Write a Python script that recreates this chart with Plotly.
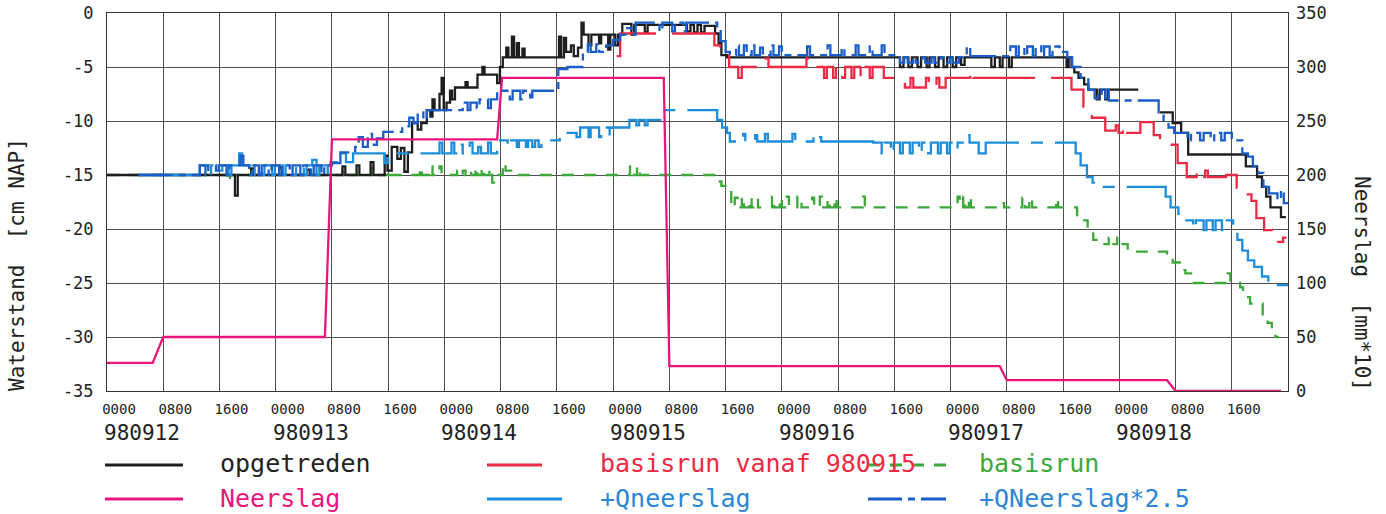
import plotly.graph_objects as go

MONO = "DejaVu Sans Mono, Liberation Mono, monospace"

# Time axis: hours since 980912 0000
day_labels = ["980912", "980913", "980914", "980915", "980916", "980917", "980918"]
time_labels = ["0000", "0800", "1600"]

# Waterstand series [cm NAP], step-wise (hour, value)
opgetreden = [
    (0, -15.0), (18.2, -16.9), (18.6, -15.0), (20.5, -14.4), (20.9, -15.0), (24.5, -14.3), (24.9, -15.0),
    (28.5, -14.5), (28.9, -15.0), (33.5, -14.2), (33.9, -15.0), (35.5, -14.1), (35.9, -15.0), (37.5, -13.8),
    (37.9, -15.0), (39.5, -13.2), (39.9, -14.6), (40.5, -12.4), (41.3, -13.5), (41.8, -12.5), (42.3, -14.7),
    (42.8, -12.9), (43.4, -10.2), (44.2, -10.8), (44.7, -10.2), (45.5, -9.0), (46.0, -9.6), (46.3, -8.0),
    (46.6, -9.0), (47.3, -7.5), (47.6, -6.0), (47.9, -9.0), (48.3, -8.3), (48.8, -7.2), (49.1, -8.0),
    (49.5, -6.9), (51.0, -6.4), (51.3, -6.9), (52.7, -5.7), (53.4, -5.0), (53.7, -5.7), (55.5, -6.5),
    (55.9, -5.0), (56.3, -4.1), (56.8, -3.2), (57.1, -4.1), (57.6, -2.2), (57.9, -4.1), (58.3, -2.8),
    (58.6, -4.1), (59.1, -3.3), (59.4, -4.1), (64.3, -2.2), (64.6, -4.1), (65.0, -2.3), (65.3, -3.6),
    (66.0, -3.0), (66.4, -4.0), (67.0, -3.2), (67.5, -0.9), (67.8, -2.0), (68.5, -3.0), (68.9, -2.0),
    (70.0, -2.8), (70.3, -2.0), (71.3, -3.4), (71.6, -2.0), (72.3, -3.0), (72.7, -2.0), (73.3, -1.0),
    (74.6, -2.0), (75.0, -1.1), (76.5, -1.8), (76.9, -1.1), (82.5, -1.7), (83.0, -1.1), (83.5, -1.8),
    (84.0, -1.1), (84.5, -1.8), (85.0, -1.2), (86.5, -1.9), (87.0, -2.8), (87.4, -3.9), (88.2, -4.1),
    (112.8, -5.0), (113.3, -4.1), (114.0, -5.0), (114.5, -4.1), (115.3, -5.0), (115.8, -4.1), (116.6, -5.0),
    (117.0, -4.1), (117.8, -5.0), (118.3, -4.1), (119.0, -5.0), (119.5, -4.1), (120.3, -5.0), (120.8, -4.1),
    (121.5, -4.8), (122.0, -4.1), (125.8, -5.0), (126.3, -4.1), (127.0, -5.0), (127.4, -4.1), (128.3, -5.0),
    (128.7, -4.1), (136.5, -5.0), (136.8, -4.1), (137.2, -5.0), (137.6, -5.5), (138.2, -6.0), (139.0, -6.6),
    (139.6, -7.1), (140.8, -8.0), (141.2, -7.1), (142.0, -8.0), (142.4, -7.1), (146.7, -7.1), (146.8, None),
    (149.8, -9.2), (151.6, -10.2), (152.8, -11.1), (153.8, -13.1), (162.0, -14.2), (163.6, -15.2),
    (164.3, -16.1), (164.9, -17.0), (165.5, -18.0), (167.0, -18.9), (167.7, -18.9),
]

basisrun_vanaf = [
    (72.5, -4.0), (73.0, -1.9), (86.4, -3.0), (87.2, -3.9), (88.5, -5.0), (89.8, -6.0), (90.3, -5.0),
    (93.7, -4.2), (94.1, -5.0), (99.5, -4.2), (101.0, -5.0), (102.0, -6.0), (102.4, -5.0), (103.3, -6.0),
    (103.7, -5.0), (104.6, -6.0), (105.0, -5.0), (105.9, -6.0), (106.3, -5.0), (107.2, -6.0), (107.6, -5.0),
    (108.5, -6.0), (108.9, -5.0), (110.5, -6.0), (113.5, -6.9), (114.3, -6.0), (114.7, -6.9), (116.5, -6.0),
    (116.9, -6.9), (118.0, -6.0), (118.4, -6.9), (119.3, -6.0), (122.8, -5.3), (123.2, -6.0), (137.2, -7.1),
    (138.9, -8.7), (140.1, -9.7), (142.0, -10.9), (143.5, -10.4), (143.9, -11.1), (144.5, -10.4),
    (144.9, -11.1), (147.0, -10.1), (148.9, -11.3), (149.8, -12.2), (152.3, -13.9), (153.6, -15.2),
    (155.0, -14.6), (155.4, -15.2), (156.2, -14.6), (156.6, -15.2), (159.2, -15.0), (160.7, -16.2),
    (162.1, -16.8), (162.8, -17.4), (163.5, -19.0), (164.6, -20.1), (165.8, -21.2), (167.3, -20.8),
    (167.8, -20.8),
]

basisrun = [
    (0, -15.0), (17.1, -15.6), (17.5, -15.0), (33.5, -14.5), (33.8, -15.0), (37.6, -14.4), (37.9, -15.0),
    (40.0, -14.5), (40.3, -15.0), (44.5, -14.3), (44.8, -15.0), (46.0, -14.2), (46.3, -15.0), (47.3, -14.2),
    (47.6, -15.0), (49.8, -14.6), (50.2, -15.0), (50.6, -14.6), (51.0, -15.0), (51.4, -14.6), (51.8, -15.0),
    (52.4, -14.3), (52.7, -15.0), (53.3, -14.3), (53.6, -15.0), (54.4, -14.4), (54.8, -15.7), (55.3, -15.0),
    (56.3, -13.9), (56.7, -14.6), (57.5, -15.0), (74.4, -14.2), (74.8, -15.0), (75.4, -14.2), (75.8, -15.0),
    (86.7, -15.6), (87.4, -16.0), (88.8, -18.0), (89.3, -17.1), (89.7, -18.0), (90.3, -17.0), (90.6, -18.0),
    (91.4, -17.1), (91.7, -18.0), (92.3, -17.3), (92.6, -18.0), (94.6, -17.0), (94.9, -18.0), (95.7, -17.1),
    (96.0, -18.0), (96.7, -17.0), (97.0, -18.0), (98.2, -17.0), (98.8, -18.0), (100.3, -17.1), (100.6, -18.0),
    (101.4, -17.0), (101.7, -18.0), (102.5, -17.2), (102.8, -18.0), (103.5, -17.1), (103.8, -18.0),
    (107.5, -17.0), (107.8, -18.0), (121.0, -17.0), (121.3, -18.0), (121.8, -17.0), (122.1, -18.0),
    (122.6, -17.0), (122.9, -18.0), (127.0, -17.6), (127.6, -18.0), (130.2, -17.1), (130.6, -18.0),
    (131.2, -17.1), (131.6, -18.0), (135.0, -17.2), (135.3, -18.0), (138.0, -19.2), (139.5, -20.4),
    (140.3, -21.0), (141.7, -21.4), (142.5, -20.8), (142.9, -21.4), (143.7, -20.8), (144.1, -21.4),
    (145.2, -22.1), (150.8, -22.6), (151.6, -23.1), (152.6, -23.8), (153.4, -24.1), (154.5, -25.0),
    (159.4, -24.1), (159.8, -25.0), (161.2, -25.4), (161.6, -26.3), (162.6, -26.9), (164.4, -28.1),
    (165.1, -28.7), (165.7, -29.4), (166.2, -30.0), (166.7, -30.0),
]

q_neerslag = [
    (4.5, -15.0), (13.2, -14.1), (14.4, -15.0), (14.8, -14.1), (16.0, -14.6), (16.4, -14.1), (17.3, -15.0),
    (17.7, -14.1), (18.8, -13.0), (19.2, -14.1), (20.6, -15.0), (21.0, -14.1), (22.0, -15.0), (22.4, -14.1),
    (23.5, -15.0), (23.9, -14.1), (25.0, -15.0), (25.4, -14.1), (26.5, -15.0), (26.9, -14.1), (28.0, -15.0),
    (28.4, -14.1), (29.2, -13.6), (29.8, -15.0), (30.2, -14.1), (31.4, -15.0), (31.8, -13.8), (33.0, -13.0),
    (34.0, -13.8), (35.0, -13.0), (39.5, -13.9), (40.0, -13.0), (47.3, -12.0), (47.7, -13.0), (49.0, -12.0),
    (49.4, -13.0), (50.2, -12.2), (50.6, -13.0), (51.6, -12.0), (52.0, -13.0), (52.8, -12.4), (53.2, -13.0),
    (54.2, -12.0), (54.6, -13.0), (55.5, -11.8), (57.0, -12.4), (57.3, -11.8), (58.3, -12.4), (58.6, -11.8),
    (59.6, -12.4), (59.9, -11.8), (60.5, -12.4), (60.9, -11.8), (61.4, -12.4), (61.8, -11.8), (64.4, -11.1),
    (66.8, -11.5), (67.3, -10.6), (68.5, -11.5), (68.8, -10.6), (70.0, -11.5), (70.3, -10.6), (71.5, -11.5),
    (71.8, -10.6), (74.3, -9.9), (75.3, -10.4), (75.7, -9.9), (76.5, -10.4), (76.9, -9.9), (78.7, -9.0),
    (86.8, -9.9), (87.5, -10.6), (88.2, -11.1), (88.6, -11.9), (90.5, -11.2), (90.8, -11.9), (92.2, -11.3),
    (92.5, -11.9), (93.6, -11.2), (94.0, -11.9), (97.5, -11.2), (97.9, -11.9), (100.5, -11.2), (101.2, -11.5),
    (101.6, -11.9), (109.0, -12.0), (110.2, -13.0), (110.6, -12.0), (111.5, -13.0), (111.9, -12.0),
    (112.8, -13.0), (113.2, -12.0), (114.2, -13.0), (114.6, -12.0), (115.5, -13.0), (115.9, -12.0),
    (116.8, -13.0), (117.2, -12.0), (118.2, -13.0), (118.6, -12.0), (119.5, -13.0), (119.9, -12.0),
    (120.7, -12.6), (121.0, -12.0), (122.2, -11.3), (122.7, -12.0), (124.0, -13.0), (125.0, -12.0),
    (137.8, -13.0), (138.5, -14.1), (139.4, -15.2), (140.2, -15.7), (141.0, -16.1), (150.6, -17.0),
    (151.3, -18.0), (152.4, -18.6), (153.0, -19.2), (154.5, -20.0), (154.9, -19.2), (156.0, -20.1),
    (156.4, -19.2), (157.3, -20.1), (157.7, -19.2), (158.6, -20.1), (159.0, -19.2), (160.2, -20.1),
    (160.8, -21.0), (161.5, -22.0), (162.3, -22.9), (163.2, -23.5), (164.3, -24.4), (165.2, -25.2),
    (168.0, -25.2),
]

q_neerslag_25 = [
    (4.5, -15.0), (13.2, -14.1), (14.0, -15.0), (14.4, -14.1), (15.5, -14.6), (15.9, -14.1), (17.0, -15.0),
    (17.4, -14.1), (19.0, -13.2), (19.4, -14.1), (20.2, -15.0), (20.6, -14.1), (21.6, -15.0), (22.0, -14.1),
    (23.0, -15.0), (23.4, -14.1), (24.5, -15.0), (24.9, -14.1), (26.0, -15.0), (26.4, -14.1), (27.5, -15.0),
    (27.9, -14.1), (29.0, -15.0), (29.4, -14.1), (30.5, -15.0), (30.9, -14.1), (32.0, -13.9), (33.2, -12.9),
    (35.3, -12.4), (35.8, -11.5), (36.4, -12.4), (37.1, -11.2), (37.7, -12.2), (38.4, -11.6), (39.3, -11.0),
    (42.0, -10.5), (43.0, -9.7), (43.6, -10.2), (44.2, -9.2), (45.0, -9.9), (45.5, -9.0), (50.6, -8.3),
    (51.3, -9.0), (51.7, -8.3), (52.6, -8.8), (53.0, -8.0), (54.2, -8.8), (54.6, -8.0), (55.5, -7.2),
    (57.3, -8.0), (57.7, -7.2), (58.8, -8.0), (59.2, -7.2), (60.2, -7.8), (60.5, -7.2), (64.2, -5.2),
    (65.5, -5.0), (67.7, -3.6), (68.4, -2.9), (68.8, -3.6), (69.6, -2.9), (70.0, -3.6), (71.0, -3.0),
    (72.0, -2.5), (73.0, -2.0), (74.0, -1.4), (74.6, -2.0), (75.2, -0.9), (78.6, -1.7), (79.0, -0.9),
    (80.4, -1.7), (80.8, -0.9), (82.0, -1.7), (82.4, -0.9), (86.8, -1.4), (87.3, -2.6), (88.0, -3.6),
    (88.6, -3.9), (89.5, -3.0), (89.9, -3.9), (90.6, -3.0), (91.0, -3.9), (91.7, -3.0), (92.1, -3.9),
    (92.9, -3.2), (93.3, -3.9), (94.4, -3.0), (94.8, -3.9), (95.6, -3.1), (96.0, -3.9), (99.6, -3.1),
    (100.0, -3.9), (102.5, -3.0), (102.9, -3.9), (104.5, -3.2), (104.9, -3.9), (106.5, -3.0), (106.9, -3.9),
    (108.5, -3.1), (108.9, -3.9), (110.2, -3.0), (110.6, -3.9), (112.8, -4.6), (113.4, -4.1), (113.9, -4.6),
    (114.7, -4.1), (115.1, -4.6), (116.0, -4.1), (116.4, -4.6), (117.3, -4.1), (117.7, -4.6), (118.6, -4.1),
    (119.0, -4.6), (119.9, -4.1), (120.3, -4.6), (121.2, -4.1), (122.3, -3.1), (122.8, -4.0), (128.5, -3.1),
    (129.3, -4.0), (129.7, -3.1), (130.5, -4.0), (130.9, -3.1), (131.7, -4.0), (132.1, -3.1), (132.9, -4.0),
    (133.3, -3.1), (134.1, -4.0), (134.5, -3.1), (135.5, -3.6), (136.6, -4.1), (137.3, -5.0), (138.5, -6.0),
    (139.6, -7.1), (140.5, -7.9), (141.0, -7.1), (141.5, -7.9), (142.0, -7.1), (142.5, -8.1), (149.6, -9.2),
    (150.3, -10.1), (151.0, -10.6), (151.8, -11.1), (153.7, -11.8), (154.2, -11.1), (155.5, -11.8),
    (156.0, -11.1), (157.0, -11.8), (157.5, -11.1), (158.5, -11.8), (159.0, -11.1), (160.0, -11.8),
    (161.5, -13.0), (162.3, -13.3), (163.0, -14.2), (163.8, -14.8), (164.5, -16.1), (165.3, -16.7),
    (166.5, -17.3), (167.0, -16.4), (167.4, -17.6), (168.0, -17.6),
]

# Neerslag [mm*10] on the right-hand axis
neerslag = [
    (0, 26), (6.5, 26), (8.0, 50), (31.0, 50), (32.0, 233), (55.5, 233), (56.2, 290), (79.2, 290),
    (80.0, 23), (127.0, 23), (128.0, 10), (150.8, 10), (152.0, 0), (167.0, 0),
]

BLACK = "#1e1e1e"
RED = "#ec2a44"
GREEN = "#3ca83a"
MAGENTA = "#e8167c"
LBLUE = "#1c8ddc"
DBLUE = "#1a5cc8"
TEXT_BLUE = "#2b86d8"

series = [
    # name, data, colour, dash, axis, shape
    ("basisrun", basisrun, GREEN, "12px,10px", "y", "hv"),
    ("opgetreden", opgetreden, BLACK, "solid", "y", "hv"),
    ("basisrun vanaf 980915", basisrun_vanaf, RED, "62px,16px", "y", "hv"),
    ("+Qneerslag", q_neerslag, LBLUE, "80px,12px,12px,12px", "y", "hv"),
    ("+QNeerslag*2.5", q_neerslag_25, DBLUE, "34px,6px,7px,6px", "y", "hv"),
    ("Neerslag", neerslag, MAGENTA, "solid", "y2", "linear"),
]

fig = go.Figure()
for name, data, colour, dash, axis, shape in series:
    fig.add_trace(go.Scatter(
        x=[p[0] for p in data], y=[p[1] for p in data], name=name, yaxis=axis,
        mode="lines", line=dict(color=colour, width=2.3, dash=dash, shape=shape),
        connectgaps=False, showlegend=False, hoverinfo="skip",
    ))

W, H = 1386, 514
L, R, T, B = 107, 98, 13, 123
PW, PH = W - L - R, H - T - B


def fx(px):
    return (px - L) / PW


def fy(py):
    return (H - B - py) / PH


GRID = "#505050"
hour_ticks = list(range(0, 161, 8))
fig.update_layout(
    width=W, height=H, margin=dict(l=L, r=R, t=T, b=B, autoexpand=False),
    paper_bgcolor="white", plot_bgcolor="white",
    font=dict(family=MONO, color="#222"),
    xaxis=dict(
        range=[0, 168], autorange=False, tickvals=hour_ticks,
        ticktext=[time_labels[i % 3] for i in range(len(hour_ticks))],
        showgrid=True, gridcolor=GRID, gridwidth=1, zeroline=False,
        showline=True, linecolor="#333", linewidth=1, mirror=True, ticks="",
        tickfont=dict(size=14, family=MONO, color="#222"), ticklabelshift=12, ticklabelstandoff=5,
    ),
    yaxis=dict(
        range=[-35, 0], autorange=False, tickvals=list(range(-35, 1, 5)),
        ticktext=[str(v).replace("\u2212", "-") for v in range(-35, 1, 5)],
        showgrid=True, gridcolor=GRID, gridwidth=1, zeroline=False,
        showline=True, linecolor="#333", linewidth=1, mirror=True, ticks="",
        tickfont=dict(size=17, family=MONO, color="#222"), ticklabelstandoff=9,
    ),
    yaxis2=dict(
        range=[0, 350], autorange=False, overlaying="y", side="right",
        tickvals=list(range(0, 351, 50)), showgrid=False, zeroline=False, ticks="",
        tickfont=dict(size=17, family=MONO, color="#222"), ticklabelstandoff=7,
    ),
)

annotations = []
# date labels under the 0000 ticks
for i, d in enumerate(day_labels):
    annotations.append(dict(
        x=24 * i, xref="x", y=fy(433), yref="paper", text=d, showarrow=False,
        xanchor="left", yanchor="middle", xshift=-5,
        font=dict(size=21, family=MONO, color="#222"),
    ))

# axis titles
annotations.append(dict(
    x=fx(17), xref="paper", y=fy(264), yref="paper", text="Waterstand  [cm NAP]",
    textangle=-90, showarrow=False, xanchor="center", yanchor="middle",
    font=dict(size=21, family=MONO, color="#222"),
))
annotations.append(dict(
    x=fx(1362), xref="paper", y=fy(284), yref="paper", text="Neerslag  [mm*10]",
    textangle=90, showarrow=False, xanchor="center", yanchor="middle",
    font=dict(size=21, family=MONO, color="#222"),
))

# legend block: two rows of three entries
legend_rows = [464, 498]
legend_entries = [
    # row, line start, line end, text x, label, line colour, dash, text colour
    (0, 105, 183, 218, "opgetreden", BLACK, "solid", "#222"),
    (0, 487, 542, 598, "basisrun vanaf 980915", RED, "62px,16px", RED),
    (0, 868, 946, 977, "basisrun", GREEN, "12px,10px", GREEN),
    (1, 105, 183, 218, "Neerslag", MAGENTA, "solid", MAGENTA),
    (1, 487, 562, 598, "+Qneerslag", LBLUE, "80px,12px,12px,12px", TEXT_BLUE),
    (1, 868, 946, 977, "+QNeerslag*2.5", DBLUE, "34px,6px,7px,6px", TEXT_BLUE),
]
shapes = []
for row, x0, x1, tx, label, colour, dash, tcol in legend_entries:
    yy = fy(legend_rows[row] + 1)
    shapes.append(dict(
        type="line", xref="paper", yref="paper", x0=fx(x0), x1=fx(x1), y0=yy, y1=yy,
        line=dict(color=colour, width=3, dash=dash), layer="above",
    ))
    annotations.append(dict(
        x=fx(tx), xref="paper", y=fy(legend_rows[row]), yref="paper", text=label,
        showarrow=False, xanchor="left", yanchor="middle",
        font=dict(size=25, family=MONO, color=tcol),
    ))

fig.update_layout(annotations=annotations, shapes=shapes)
fig.write_html("out.html")
